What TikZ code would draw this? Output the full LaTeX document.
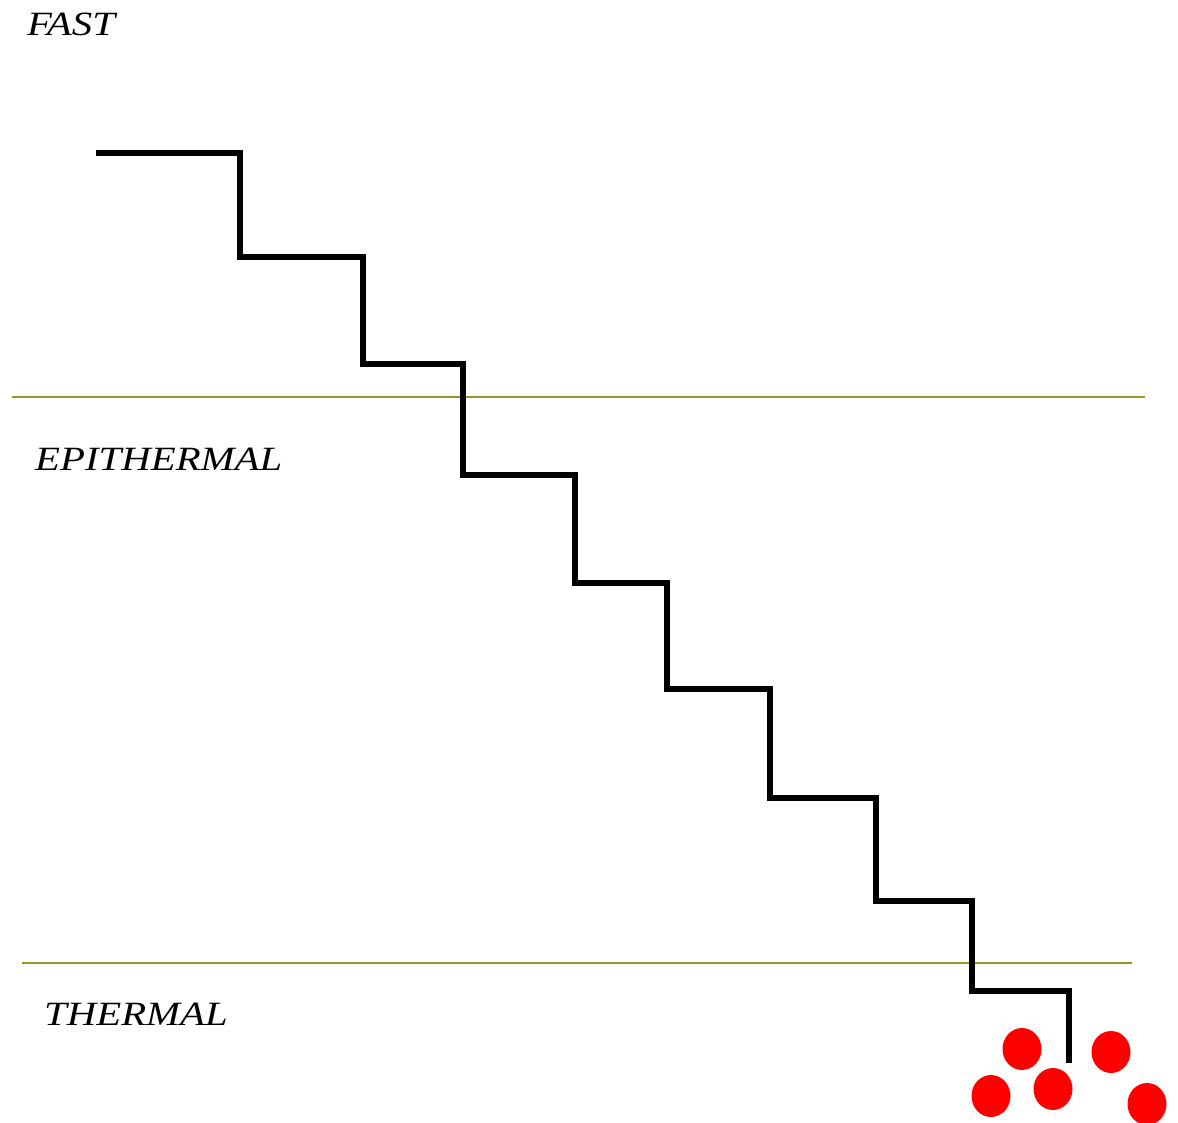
\documentclass[tikz,border=0pt]{standalone}
\usepackage{fontspec}
\setmainfont{Liberation Serif}
\definecolor{olivel}{RGB}{150,150,40}
\definecolor{dotred}{RGB}{255,0,0}
\tikzset{
  lbl/.style={anchor=base west, inner sep=0pt, font=\fontsize{34}{40}\selectfont\itshape, xscale=1.2},
  divider/.style={draw=olivel, line width=1.8pt},
  stair/.style={draw=black, line width=5.5pt, line join=miter},
  particle/.style={fill=dotred, draw=none}
}
\begin{document}
\begin{tikzpicture}[x=1pt,y=-1pt]
\useasboundingbox (0,0) rectangle (1178,1123);
\fill[white] (0,0) rectangle (1178,1123);
% dividers
\draw[divider] (12,397) -- (1145,397);
\draw[divider] (22,963) -- (1132,963);
% labels
\node[lbl] (fast) at (27,36) {FAST};
\node[lbl] (epi) at (35,470) {EPITHERMAL};
\node[lbl] (therm) at (44,1025) {THERMAL};
% staircase
\draw[stair] (96,153) -- (240,153) -- (240,257) -- (363,257) -- (363,364) -- (463,364)
  -- (463,475) -- (575,475) -- (575,583) -- (667,583) -- (667,689) -- (770,689)
  -- (770,798) -- (876,798) -- (876,901) -- (972,901) -- (972,991) -- (1069,991) -- (1069,1063);
% particles
\fill[particle] (1022,1049) ellipse [x radius=19.5, y radius=21];
\fill[particle] (1111,1052) ellipse [x radius=19.5, y radius=21];
\fill[particle] (991,1096) ellipse [x radius=19.5, y radius=21];
\fill[particle] (1053,1089) ellipse [x radius=19.5, y radius=21];
\fill[particle] (1147,1104) ellipse [x radius=19.5, y radius=21];
\end{tikzpicture}
\end{document}
